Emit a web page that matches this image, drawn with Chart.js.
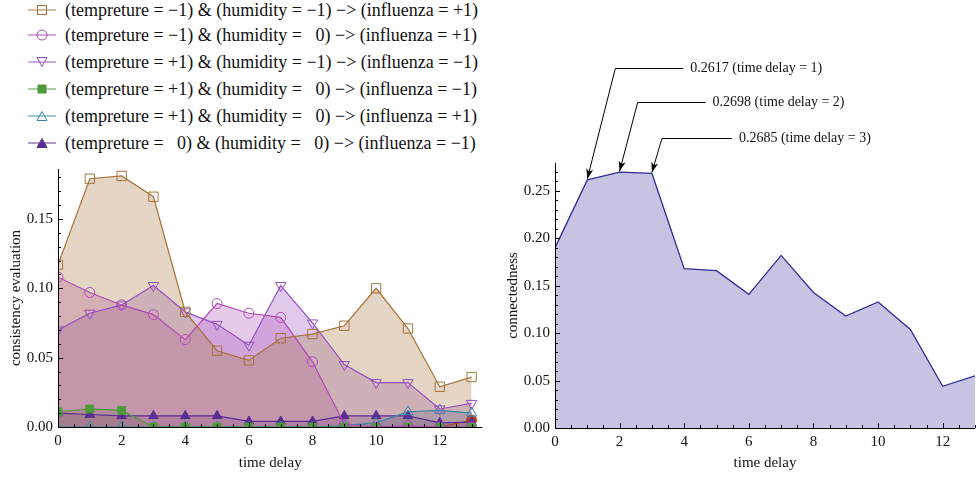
<!DOCTYPE html>
<html><head><meta charset="utf-8">
<script src="https://cdn.jsdelivr.net/npm/chart.js@4/dist/chart.umd.min.js"></script>
<style>
html,body{margin:0;padding:0;background:#fff;width:978px;height:478px;overflow:hidden;}
#legend{position:absolute;left:0;top:0;width:490px;height:155px;font-family:"Liberation Serif",serif;font-size:18px;color:#111;}
.row{position:absolute;left:0;height:22px;display:flex;align-items:center;white-space:pre;}
.row svg{margin-left:28px;margin-right:9px;flex:none;}
#c1wrap{position:absolute;left:0;top:155px;width:490px;height:323px;}
#c2wrap{position:absolute;left:495px;top:0;width:483px;height:478px;}
</style></head>
<body>
<div id="legend"></div>
<div id="c1wrap"><canvas id="c1"></canvas></div>
<div id="c2wrap"><canvas id="c2"></canvas></div>
<script>
// ---------- data ----------
const timeDelay = [0,1,2,3,4,5,6,7,8,9,10,11,12,13];
const ruleLabels = [
  "(tempreture = \u22121) & (humidity = \u22121) \u2212> (influenza = +1)",
  "(tempreture = \u22121) & (humidity =   0) \u2212> (influenza = +1)",
  "(tempreture = +1) & (humidity = \u22121) \u2212> (influenza = \u22121)",
  "(tempreture = +1) & (humidity =   0) \u2212> (influenza = \u22121)",
  "(tempreture = +1) & (humidity =   0) \u2212> (influenza = +1)",
  "(tempreture =   0) & (humidity =   0) \u2212> (influenza = \u22121)"
];
const rule1 = [0.117,0.179,0.181,0.166,0.083,0.055,0.048,0.064,0.067,0.073,0.100,0.071,0.029,0.036];
const rule2 = [0.108,0.097,0.088,0.081,0.063,0.089,0.082,0.079,0.047,0.002,0.000,0.001,0.000,0.000];
const rule3 = [0.070,0.082,0.088,0.102,0.083,0.074,0.059,0.102,0.075,0.045,0.032,0.032,0.013,0.017];
const rule4 = [0.011,0.013,0.012,0.000,0.000,0.000,0.000,0.000,0.000,0.000,0.000,0.000,0.000,0.000];
const rule5 = [0.000,0.000,0.000,0.000,0.000,0.000,0.000,0.000,0.000,0.001,0.003,0.011,0.012,0.010];
const rule6 = [0.010,0.009,0.008,0.008,0.008,0.008,0.004,0.004,0.004,0.008,0.008,0.008,0.003,0.0035];
const rule7 = [null,null,null,null,null,null,null,null,null,null,null,null,0.000,0.005];
const connectedness = [0.190,0.2617,0.2698,0.2685,0.168,0.166,0.141,0.182,0.143,0.118,0.133,0.104,0.044,0.055];
const annotatedDelays = [1,2,3];
const xTickValues = [0,2,4,6,8,10,12];
const leftYTickValues = [0,0.05,0.10,0.15];
const rightYTickValues = [0,0.05,0.10,0.15,0.20,0.25];

// ---------- styles ----------
const serif = '"Liberation Serif", "Times New Roman", serif';
const ruleColors = ['#a5733c','#b04bb5','#9550c0','#4f9a3d','#3a86a5','#5a2d92','#b2441f'];
const ruleMarkers = [
  {style:'rect', r:6.6, open:true, rot:0},
  {style:'circle', r:5, open:true, rot:0},
  {style:'triangle', r:6, open:true, rot:180},
  {style:'rect', r:5.5, open:false, rot:0},
  {style:'triangle', r:6, open:true, rot:0},
  {style:'triangle', r:5.5, open:false, rot:0},
  {style:'circle', r:5, open:false, rot:0}
];
function rgba(hex,a){const n=parseInt(hex.slice(1),16);return `rgba(${n>>16},${(n>>8)&255},${n&255},${a})`;}

// ---------- HTML legend ----------
const legendY = [10,35,62,89,116,143];
const legend = document.getElementById('legend');
ruleLabels.forEach((txt,i)=>{
  const c = ruleColors[i], m = ruleMarkers[i];
  let sym='';
  const fill = m.open ? 'none' : c;
  if(m.style==='rect'){const s=m.open?9:8;sym=`<rect x="${14-s/2}" y="${8-s/2}" width="${s}" height="${s}" fill="${fill}" stroke="${c}" stroke-width="1"/>`;}
  else if(m.style==='circle'){sym=`<circle cx="14" cy="8" r="5" fill="${fill}" stroke="${c}" stroke-width="1"/>`;}
  else if(m.rot===180){sym=`<polygon points="9,3.5 19,3.5 14,12.5" fill="${fill}" stroke="${c}" stroke-width="1"/>`;}
  else {sym=`<polygon points="9,12.5 19,12.5 14,3.5" fill="${fill}" stroke="${c}" stroke-width="1"/>`;}
  const row = document.createElement('div');
  row.className='row';
  row.style.top = (legendY[i]-11)+'px';
  row.innerHTML = `<svg width="28" height="16" viewBox="0 0 28 16"><line x1="0" y1="8" x2="28" y2="8" stroke="${rgba(c,0.8)}" stroke-width="1.2"/>${sym}</svg><span>${txt.replace(/&/g,'&amp;').replace(/>/g,'&gt;')}</span>`;
  legend.appendChild(row);
});

// ---------- axis plugin (Mathematica-like inward ticks) ----------
const mmaAxes = {
  id:'mmaAxes',
  afterDraw(chart){
    const {ctx, chartArea:a, scales:{x,y}} = chart;
    ctx.save();
    ctx.strokeStyle='#000'; ctx.lineWidth=1;
    ctx.beginPath();
    ctx.moveTo(a.left+0.5, a.top); ctx.lineTo(a.left+0.5, a.bottom+0.5);
    ctx.lineTo(a.right, a.bottom+0.5);
    ctx.stroke();
    ctx.beginPath();
    for(let k=0; k*0.5<=x.max+1e-9; k++){
      const v=k*0.5, px=Math.round(x.getPixelForValue(v))+0.5;
      const len = (k%4===0)?5:3;
      ctx.moveTo(px, a.bottom); ctx.lineTo(px, a.bottom-len);
    }
    for(let k=0; k*0.01<=y.max+1e-9; k++){
      const v=k*0.01, py=Math.round(y.getPixelForValue(v))+0.5;
      const len = (k%5===0)?5:3;
      ctx.moveTo(a.left, py); ctx.lineTo(a.left+len, py);
    }
    ctx.stroke();
    ctx.restore();
  }
};

function makeScales(xMax, yMax, yTicks, yTitle, yW, xH, yTitlePad){
  return {
    x:{type:'linear', min:0, max:xMax,
      afterBuildTicks:s=>{s.ticks=xTickValues.map(v=>({value:v}));},
      afterFit:s=>{s.height=xH;},
      grid:{display:false, drawTicks:false}, border:{display:false},
      ticks:{font:{family:serif,size:15}, color:'#111', padding:5, maxRotation:0, autoSkip:false, callback:v=>String(v)},
      title:{display:true, text:'time delay', font:{family:serif,size:15}, color:'#111', padding:{top:0,bottom:6}}
    },
    y:{type:'linear', min:0, max:yMax,
      afterBuildTicks:s=>{s.ticks=yTicks.map(v=>({value:v}));},
      afterFit:s=>{s.width=yW;},
      grid:{display:false, drawTicks:false}, border:{display:false},
      ticks:{font:{family:serif,size:15}, color:'#111', padding:5, callback:v=>Number(v).toFixed(2)},
      title:{display:true, text:yTitle, font:{family:serif,size:15}, color:'#111', padding:{top:yTitlePad,bottom:0}}
    }
  };
}

// ---------- left chart ----------
const ruleSeries = [rule1,rule2,rule3,rule4,rule5,rule6,rule7];
const leftDatasets = ruleSeries.map((s,i)=>{
  const m = ruleMarkers[i], c = ruleColors[i];
  return {
    label: ruleLabels[i] || '',
    data: timeDelay.map((t,j)=>({x:t, y:s[j]})),
    borderColor: c,
    backgroundColor: rgba(c,0.3),
    borderWidth: 1.2,
    fill: 'origin',
    tension: 0,
    spanGaps: false,
    pointStyle: m.style,
    pointRotation: m.rot,
    pointRadius: i===6 ? (ctx=>ctx.raw && ctx.raw.y>0 ? m.r : 0) : m.r,
    pointBorderColor: c,
    pointBorderWidth: 1,
    pointBackgroundColor: m.open ? 'rgba(0,0,0,0)' : c
  };
});
new Chart(document.getElementById('c1'), {
  type:'line',
  data:{datasets:leftDatasets},
  options:{
    responsive:true, maintainAspectRatio:false, animation:false,
    layout:{padding:{top:8,right:4,left:0,bottom:0}},
    plugins:{legend:{display:false}, tooltip:{enabled:false}, filler:{drawTime:'beforeDatasetsDraw'}},
    scales: makeScales(13.34, 0.186, leftYTickValues, 'consistency evaluation', 58, 51, 7)
  },
  plugins:[mmaAxes]
});

// ---------- right chart ----------
const annotLayout = { // elbow offset from point (px), elbow y (px), text offset from point (px)
  1:{dx:28, ey:68, tx:103},
  2:{dx:18, ey:102, tx:93},
  3:{dx:10, ey:138, tx:87}
};
const annotPlugin = {
  id:'annot',
  afterDraw(chart){
    const {ctx, scales:{x,y}} = chart;
    ctx.save();
    ctx.strokeStyle='#000'; ctx.fillStyle='#000'; ctx.lineWidth=1;
    ctx.font = `14px ${serif}`; ctx.textBaseline='middle'; ctx.textAlign='left';
    annotatedDelays.forEach(k=>{
      const L = annotLayout[k];
      const px = x.getPixelForValue(k), py = y.getPixelForValue(connectedness[k]) - 1;
      const ex = px + L.dx, ey = L.ey + 0.5, tx = px + L.tx;
      ctx.beginPath();
      ctx.moveTo(tx-7, ey); ctx.lineTo(ex, ey); ctx.lineTo(px, py);
      ctx.stroke();
      const ang = Math.atan2(py-ey, px-ex), hl=10, hw=3.5;
      ctx.beginPath();
      ctx.moveTo(px, py);
      ctx.lineTo(px - hl*Math.cos(ang) + hw*Math.sin(ang), py - hl*Math.sin(ang) - hw*Math.cos(ang));
      ctx.lineTo(px - hl*0.75*Math.cos(ang), py - hl*0.75*Math.sin(ang));
      ctx.lineTo(px - hl*Math.cos(ang) - hw*Math.sin(ang), py - hl*Math.sin(ang) + hw*Math.cos(ang));
      ctx.closePath(); ctx.fill();
      ctx.fillStyle='#111';
      ctx.fillText(`${connectedness[k].toFixed(4)} (time delay = ${k})`, tx, ey);
      ctx.fillStyle='#000';
    });
    ctx.restore();
  }
};
new Chart(document.getElementById('c2'), {
  type:'line',
  data:{datasets:[{
    label:'connectedness',
    data: timeDelay.map((t,j)=>({x:t, y:connectedness[j]})),
    borderColor:'#2e2e94', borderWidth:1.3,
    backgroundColor:'#c6c4e2', fill:'origin', tension:0, pointRadius:0
  }]},
  options:{
    responsive:true, maintainAspectRatio:false, animation:false,
    layout:{padding:{top:163,right:3,left:0,bottom:0}},
    plugins:{legend:{display:false}, tooltip:{enabled:false}},
    scales: makeScales(13, 0.2795, rightYTickValues, 'connectedness', 60, 50, 9)
  },
  plugins:[mmaAxes, annotPlugin]
});
</script>
</body></html>
